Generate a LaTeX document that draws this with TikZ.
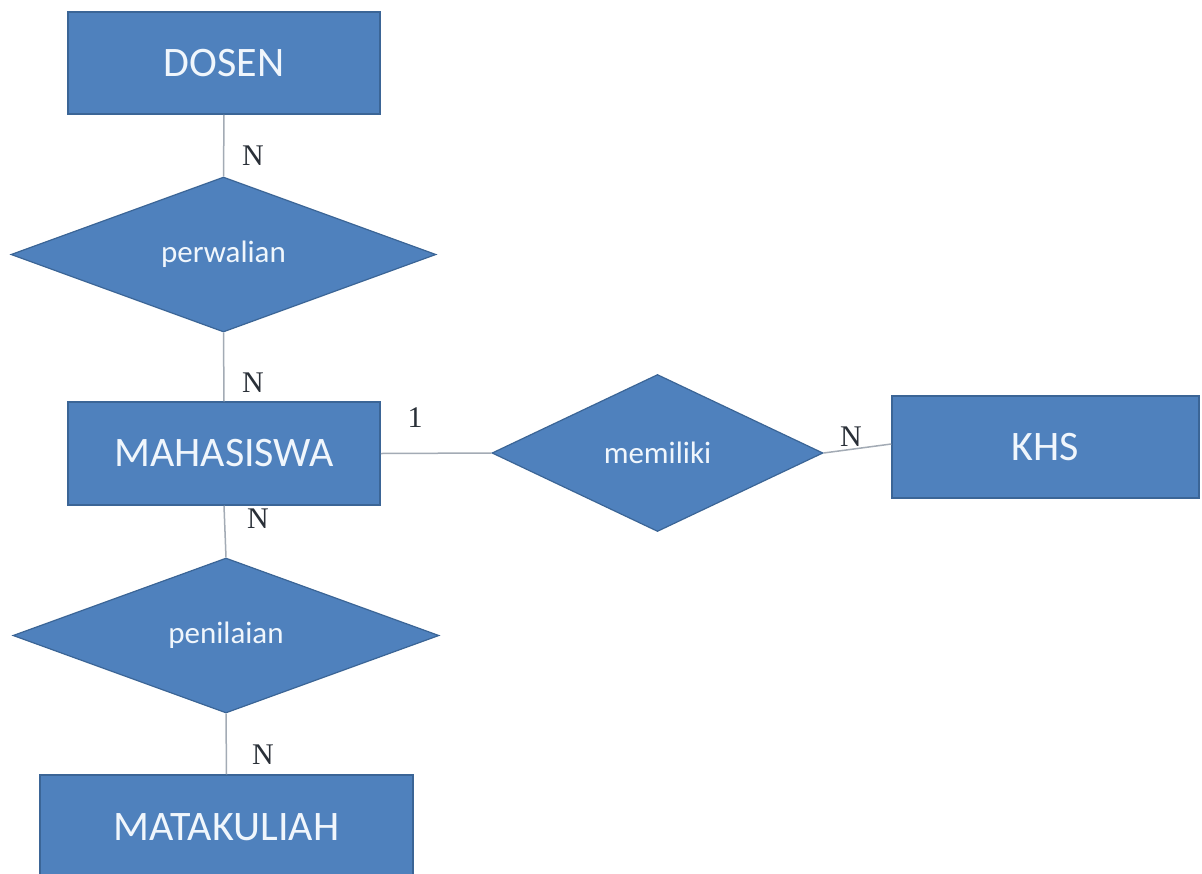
\documentclass[tikz,border=0pt]{standalone}
\usepackage{fontspec}
\setmainfont{Carlito}
\newfontfamily\cardfont{Liberation Serif}
\usetikzlibrary{shapes.geometric}
\definecolor{erfill}{HTML}{4F81BD}
\definecolor{erdraw}{HTML}{3B6596}
\definecolor{erline}{HTML}{A3ABB5}
\definecolor{erlabel}{HTML}{2A3038}
\definecolor{ertext}{HTML}{F0F6FC}
\begin{document}
\begin{tikzpicture}[x=1pt,y=-1pt,
  entity/.style={rectangle, fill=erfill, draw=erdraw, line width=1.5pt,
    inner sep=0pt, text=ertext, font=\fontsize{42}{50}\selectfont},
  relation/.style={diamond, fill=erfill, draw=erdraw, line width=1.2pt,
    inner sep=0pt, text=ertext, font=\fontsize{31}{37}\selectfont},
  link/.style={draw=erline, line width=1.5pt},
  card/.style={text=erlabel, inner sep=0pt, font=\cardfont\fontsize{30}{34}\selectfont}]
  % page area
  \fill[white] (0,0) rectangle (1202,873);
  \useasboundingbox (0,0) rectangle (1202,873);
  \clip (0,0) rectangle (1202,873);

  % entities
  \node[entity, minimum width=312pt, minimum height=102pt] (dosen) at (224,63) {DOSEN};
  \node[entity, minimum width=312pt, minimum height=103pt] (mhs) at (224,453.5) {MAHASISWA};
  \node[entity, minimum width=307pt, minimum height=102pt] (khs) at (1045.5,447) {KHS};
  \node[entity, minimum width=373pt, minimum height=104pt] (mk) at (226.5,827) {MATAKULIAH};

  % relationships
  \node[relation, minimum width=425pt, minimum height=155pt] (perwalian) at (223.5,254.5) {perwalian};
  \node[relation, minimum width=331pt, minimum height=157pt] (memiliki) at (657.5,453) {memiliki};
  \node[relation, minimum width=426pt, minimum height=155pt] (penilaian) at (226,635.5) {penilaian};

  % connectors
  \draw[link] (dosen.south) -- (perwalian.north);
  \draw[link] (perwalian.south) -- (mhs.north);
  \draw[link] (mhs.south) -- (penilaian.north);
  \draw[link] (penilaian.south) -- (mk.north);
  \draw[link] (mhs.east) -- (memiliki.west);
  \draw[link] (memiliki.east) -- ([yshift=3pt]khs.west);

  % cardinalities
  \node[card] (c1) at (253,156) {N};
  \node[card] (c2) at (253,382.5) {N};
  \node[card] (c3) at (415,418) {1};
  \node[card] (c4) at (258,519) {N};
  \node[card] (c5) at (851,437) {N};
  \node[card] (c6) at (263,755) {N};
\end{tikzpicture}
\end{document}
